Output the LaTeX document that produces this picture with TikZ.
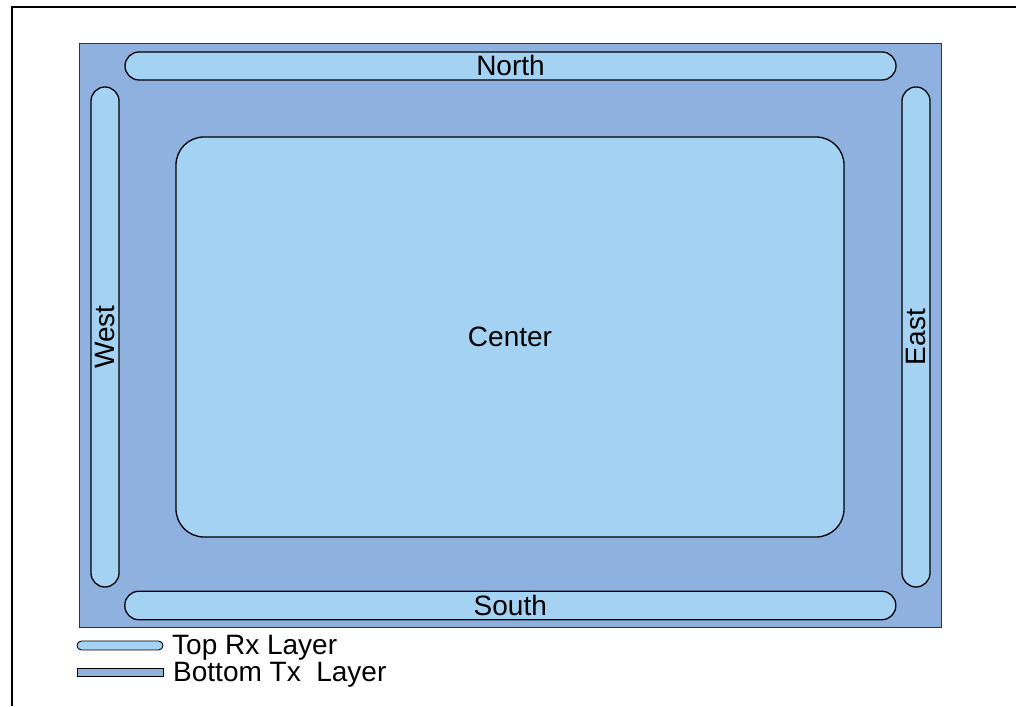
\documentclass[tikz,border=0pt]{standalone}
\usepackage{fontspec}
\setmainfont{Liberation Sans}
\definecolor{txlayer}{HTML}{8EB1E0}
\definecolor{rxlayer}{HTML}{A4D2F2}
\begin{document}
\begin{tikzpicture}[x=1pt,y=1pt,
  every node/.style={font=\fontsize{28}{33}\selectfont, inner sep=0pt},
  pill/.style={draw=black, line width=1.3pt, fill=rxlayer, rounded corners=14pt},
  board/.style={draw=black!80, line width=1pt, fill=txlayer}]
  \useasboundingbox (0,0) rectangle (1016,706);
  % page frame (continues past the right and bottom edges)
  \draw[line width=2pt] (12,0) -- (12,699) -- (1016,699);
  % bottom transmit layer
  \node[board, minimum width=862pt, minimum height=584pt] (board) at (510.5,370) {};
  % top receive electrodes
  \node[pill, minimum width=771pt, minimum height=28pt] (north) at (510.5,640) {North};
  \node[pill, minimum width=771pt, minimum height=28.5pt] (south) at (510.3,100.5) {South};
  \node[pill, rotate=90, minimum width=500pt, minimum height=28pt] (west) at (105,369) {West};
  \node[pill, rotate=90, minimum width=500pt, minimum height=28pt] (east) at (916,369) {East};
  \node[pill, rounded corners=28pt, minimum width=668pt, minimum height=400pt] (center) at (510,369) {Center};
  % legend
  \node[pill, line width=0.9pt, rounded corners=4.5pt, minimum width=86pt, minimum height=9pt] (keyrx) at (120,60.5) {};
  \node[board, draw=black, line width=0.9pt, minimum width=86pt, minimum height=8pt] (keytx) at (120,34) {};
  \node[anchor=base west] (keyrxtext) at (172,52) {Top Rx Layer};
  \node[anchor=base west] (keytxtext) at (173,24.5) {Bottom Tx\ \ Layer};
\end{tikzpicture}
\end{document}
